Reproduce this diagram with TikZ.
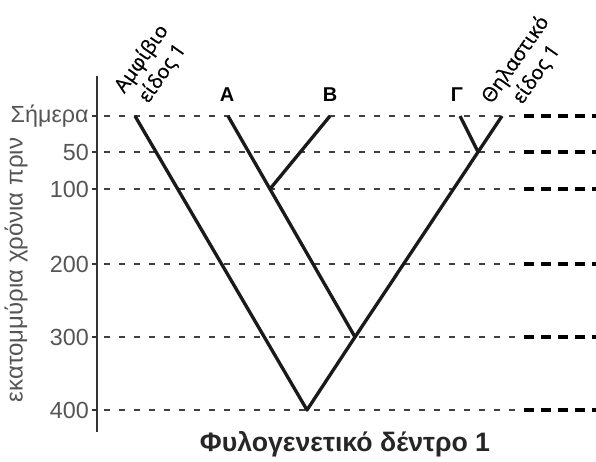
\documentclass[tikz,border=0pt]{standalone}
\usepackage{fontspec}
\setmainfont{Liberation Sans}
\newfontfamily\labelfont[FakeBold=0.7]{Open Sans}
\usetikzlibrary{calc}
\definecolor{axisgray}{HTML}{555555}
\definecolor{treeblack}{HTML}{1A1A1A}

\begin{document}
\begin{tikzpicture}[x=0.75pt,y=-0.75pt,
  branch/.style={line width=2.5pt,treeblack,line join=round},
  gridthin/.style={line width=1.4pt,black!75,dash pattern=on 4.5pt off 6.75pt},
  gridthick/.style={line width=2.6pt,black,dash pattern=on 7.5pt off 5.25pt},
  ticklbl/.style={anchor=east,text=axisgray,inner sep=0pt,font=\fontsize{17.5}{20}\selectfont},
  tiplbl/.style={font=\bfseries\fontsize{15}{18}\selectfont},
  species/.style={font=\labelfont\fontsize{15}{19}\selectfont,rotate=55,align=center,inner sep=0pt}]
  \useasboundingbox (0,0) rectangle (596,461);
  % time axis with levels
  \draw[line width=1.5pt,black!80] (97,76) -- (97,432);
  \foreach \y/\t [count=\i] in {116/Σήμερα,152/50,189/100,264/200,337/300,410/400}{
    \draw[line width=1.5pt,black!80] (92,\y) -- (97,\y);
    \node[ticklbl] (tick\i) at (89,\y) {\t};
    \draw[gridthin] (104,\y) -- (518,\y);
    \draw[gridthick] (524,\y) -- (596,\y);
  }
  \node[rotate=90,text=axisgray,font=\fontsize{18}{21}\selectfont] (ylbl) at (16,270) {εκατομμύρια χρόνια πριν};
  % tree
  \coordinate (root) at (307,410);
  \coordinate (n300) at (355,337);
  \coordinate (amph) at (135,116);
  \coordinate (tipA) at (228,116);
  \coordinate (tipB) at (330,116);
  \coordinate (tipG) at (460,116);
  \coordinate (mamm) at (502,116);
  \coordinate (n100) at ($(n300)!{148/221}!(tipA)$);
  \coordinate (n50) at ($(n300)!{185/221}!(mamm)$);
  \draw[branch] (amph) -- (root) -- (n300) -- (mamm);
  \draw[branch] (n300) -- (tipA);
  \draw[branch] (n100) -- (tipB);
  \draw[branch] (n50) -- (tipG);
  % labels
  \node[tiplbl] (labA) at (227,95) {Α};
  \node[tiplbl] (labB) at (330,95) {Β};
  \node[tiplbl] (labG) at (457,95) {Γ};
  \node[species] (amphlbl) at (152,66) {Αμφίβιο\\είδος 1};
  \node[species] (mammlbl) at (526,67) {Θηλαστικό\\είδος 1};
  \node[font=\bfseries\fontsize{20}{24}\selectfont,text=black!85] (title) at (345,444) {Φυλογενετικό δέντρο 1};
\end{tikzpicture}
\end{document}
